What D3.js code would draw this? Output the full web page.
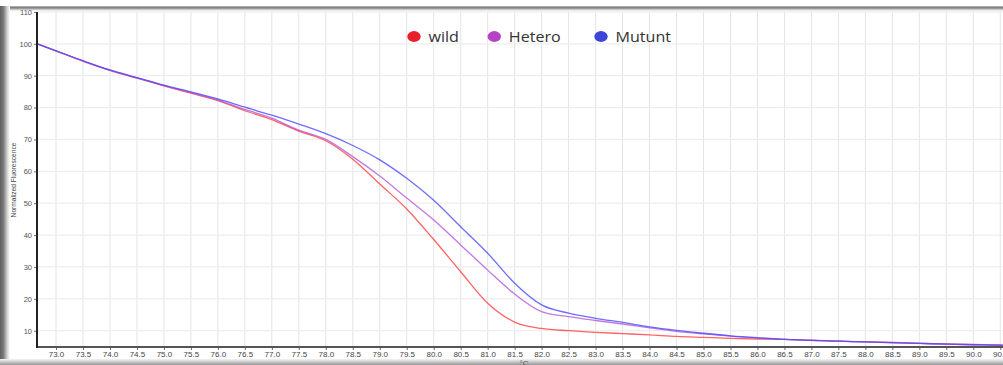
<!DOCTYPE html>
<html>
<head>
<meta charset="utf-8">
<script src="https://cdnjs.cloudflare.com/ajax/libs/d3/7.8.5/d3.min.js"></script>
<style>
  html, body { margin: 0; padding: 0; background: #fff; }
  svg { display: block; }
</style>
</head>
<body>
<svg id="chart" width="1003" height="365"></svg>
<script>
// Melt curve data: temperature (°C) and normalized fluorescence per genotype
const temps  = [72.65, 73.0, 73.5, 74.0, 74.5, 75.0, 75.5, 76.0, 76.5, 77.0, 77.5, 78.0, 78.5, 79.0, 79.5, 80.0, 80.5, 81.0, 81.5, 82.0, 82.5, 83.0, 83.5, 84.0, 84.5, 85.0, 85.5, 86.0, 86.5, 87.0, 87.5, 88.0, 88.5, 89.0, 89.5, 90.0, 90.5, 90.6];
const wild   = [100, 97.8, 94.6, 91.7, 89.2, 86.8, 84.5, 82.2, 79.0, 76.2, 72.6, 69.6, 63.8, 56.0, 48.2, 38.6, 28.5, 18.6, 12.7, 10.7, 10.0, 9.5, 9.1, 8.7, 8.2, 7.9, 7.6, 7.4, 7.3, 7.0, 6.75, 6.5, 6.3, 6.05, 5.85, 5.7, 5.5, 5.45];
const hetero = [100, 97.8, 94.6, 91.7, 89.3, 86.9, 84.7, 82.4, 79.4, 76.7, 72.9, 70.0, 64.6, 58.5, 51.6, 44.7, 36.9, 29.0, 21.5, 16.0, 14.4, 13.2, 12.1, 10.9, 9.8, 9.0, 8.3, 7.7, 7.3, 6.95, 6.7, 6.5, 6.25, 6.0, 5.8, 5.6, 5.45, 5.4];
const mutant = [100, 97.8, 94.7, 91.8, 89.4, 87.0, 84.9, 82.7, 80.1, 77.6, 74.8, 71.8, 68.1, 63.6, 57.8, 50.9, 42.6, 34.3, 24.9, 18.1, 15.5, 13.9, 12.6, 11.2, 10.1, 9.2, 8.4, 7.8, 7.3, 6.95, 6.7, 6.5, 6.25, 6.0, 5.8, 5.6, 5.45, 5.4];

const seriesNames  = ["wild", "Hetero", "Mutunt"];
const seriesLine   = ["#ff3c3c", "#b456d6", "#4848ff"];
const seriesDot    = ["#e8202a", "#b544c4", "#3c46d6"];

const xTicks = d3.range(73, 90.51, 0.5);
const yTicks = d3.range(10, 110.1, 10);

const svg = d3.select("#chart");
const W = 1003, H = 365;

// window frame shading
const defs = svg.append("defs");
const gTop = defs.append("linearGradient").attr("id", "gTop").attr("x1", 0).attr("y1", 0).attr("x2", 0).attr("y2", 1);
gTop.append("stop").attr("offset", "0%").attr("stop-color", "#bdbdbd");
gTop.append("stop").attr("offset", "35%").attr("stop-color", "#7a7a7a");
gTop.append("stop").attr("offset", "70%").attr("stop-color", "#c8c8c8");
gTop.append("stop").attr("offset", "100%").attr("stop-color", "#ffffff");
const gLeft = defs.append("linearGradient").attr("id", "gLeft").attr("x1", 0).attr("y1", 0).attr("x2", 1).attr("y2", 0);
gLeft.append("stop").attr("offset", "0%").attr("stop-color", "#5e5e5e");
gLeft.append("stop").attr("offset", "35%").attr("stop-color", "#7c7c7c");
gLeft.append("stop").attr("offset", "70%").attr("stop-color", "#cfcfcf");
gLeft.append("stop").attr("offset", "100%").attr("stop-color", "#ffffff");
const gBot = defs.append("linearGradient").attr("id", "gBot").attr("x1", 0).attr("y1", 0).attr("x2", 0).attr("y2", 1);
gBot.append("stop").attr("offset", "0%").attr("stop-color", "#f4f4f4");
gBot.append("stop").attr("offset", "50%").attr("stop-color", "#c8c8c8");
gBot.append("stop").attr("offset", "100%").attr("stop-color", "#949494");

svg.append("rect").attr("x", 0).attr("y", 0).attr("width", W).attr("height", H).attr("fill", "#fff");
svg.append("rect").attr("x", 0).attr("y", 6).attr("width", W).attr("height", 5).attr("fill", "url(#gTop)");
svg.append("rect").attr("x", 0).attr("y", 6).attr("width", 10).attr("height", H - 6).attr("fill", "url(#gLeft)");
svg.append("rect").attr("x", 0).attr("y", 359).attr("width", W).attr("height", 6).attr("fill", "url(#gBot)");

// scales
const x = d3.scaleLinear().domain([73, 90]).range([56, 973.3]);
const y = d3.scaleLinear().domain([10, 100]).range([330.7, 43.8]);
const plotLeft = 37, plotBottom = y(4.9), plotTop = y(110);

// grid
const grid = svg.append("g");
grid.selectAll("line.v").data(xTicks).join("line")
  .attr("x1", d => x(d)).attr("x2", d => x(d))
  .attr("y1", plotTop).attr("y2", plotBottom)
  .attr("stroke", "#e4e4e4").attr("stroke-width", 1);
grid.selectAll("line.h").data(yTicks).join("line")
  .attr("x1", plotLeft).attr("x2", W)
  .attr("y1", d => y(d)).attr("y2", d => y(d))
  .attr("stroke", "#eeeeee").attr("stroke-width", 1.2);

// curves
const series = [wild, hetero, mutant];
const line = d3.line()
  .x((d, i) => x(temps[i]))
  .y(d => y(d))
  .curve(d3.curveMonotoneX);
defs.append("clipPath").attr("id", "plotClip")
  .append("rect").attr("x", plotLeft).attr("y", plotTop).attr("width", W - plotLeft).attr("height", plotBottom - plotTop);
const curves = svg.append("g").attr("clip-path", "url(#plotClip)");
series.forEach((vals, k) => {
  curves.append("path").datum(vals)
    .attr("d", line)
    .attr("fill", "none")
    .attr("stroke", seriesLine[k])
    .attr("stroke-width", 1.3)
    .attr("stroke-opacity", 0.8);
});

// axes
const xAxis = d3.axisBottom(x).tickValues(xTicks).tickFormat(d3.format(".1f")).tickSize(3).tickSizeOuter(0);
const gx = svg.append("g").attr("transform", `translate(0,${plotBottom})`).call(xAxis);
gx.select(".domain").remove();
gx.selectAll(".tick line").attr("stroke", "#666");
gx.selectAll(".tick text").attr("fill", "#444").attr("font-family", "Liberation Sans, Arial, sans-serif")
  .attr("font-size", 8).attr("y", 4.5).attr("dy", "0.71em");
svg.append("line").attr("x1", plotLeft).attr("x2", W).attr("y1", plotBottom).attr("y2", plotBottom)
  .attr("stroke", "#555").attr("stroke-width", 2);

const yAxis = d3.axisLeft(y).tickValues(yTicks).tickFormat(d3.format("d")).tickSize(3).tickSizeOuter(0);
const gy = svg.append("g").attr("transform", `translate(${plotLeft},0)`).call(yAxis);
gy.select(".domain").remove();
gy.selectAll(".tick line").attr("stroke", "#777");
gy.selectAll(".tick text").attr("fill", "#555").attr("font-family", "Liberation Sans, Arial, sans-serif")
  .attr("font-size", 7.5).attr("x", -5);
svg.append("line").attr("x1", plotLeft).attr("x2", plotLeft).attr("y1", plotTop).attr("y2", plotBottom + 1)
  .attr("stroke", "#222").attr("stroke-width", 2);

// axis titles
svg.append("text")
  .attr("transform", `translate(13.5,180) rotate(-90)`)
  .attr("text-anchor", "middle").attr("dominant-baseline", "central")
  .attr("font-family", "Liberation Sans, Arial, sans-serif").attr("font-size", 6.6).attr("fill", "#444")
  .text("Normalized Fluorescence");
svg.append("text")
  .attr("x", 524).attr("y", 366)
  .attr("text-anchor", "middle")
  .attr("font-family", "Liberation Sans, Arial, sans-serif").attr("font-size", 8).attr("fill", "#555")
  .text("°C");

// legend
const legendX = [414, 494.3, 601];
const legend = svg.append("g");
seriesNames.forEach((name, k) => {
  legend.append("ellipse").attr("cx", legendX[k]).attr("cy", 36.5).attr("rx", 6.7).attr("ry", 5.4)
    .attr("fill", seriesDot[k]);
  legend.append("text")
    .attr("transform", `translate(${legendX[k] + 14.5},36.5) scale(1.15,1)`)
    .attr("dominant-baseline", "central")
    .attr("font-family", "Open Sans, sans-serif").attr("font-size", 14).attr("fill", "#333")
    .text(name);
});
</script>
</body>
</html>
